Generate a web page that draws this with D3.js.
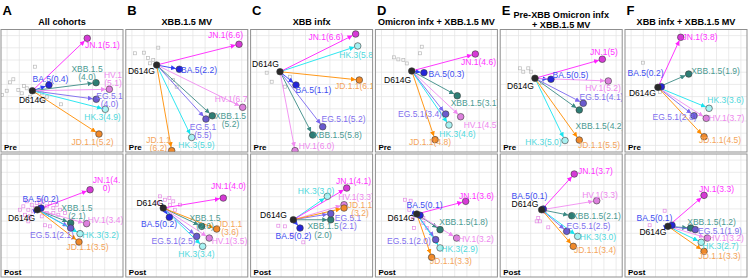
<!DOCTYPE html>
<html><head><meta charset="utf-8">
<script src="https://cdn.jsdelivr.net/npm/d3@7"></script>
<style>body{margin:0;background:#fff} text{font-family:"Liberation Sans",Arial,sans-serif}</style>
</head><body><svg id="c" width="748" height="278"></svg>
<script>
// ---------- data ----------
const letters = ["A","B","C","D","E","F"];
const cohorts = [["All cohorts"],["XBB.1.5 MV"],["XBB infx"],["Omicron infx + XBB.1.5 MV"],["Pre-XBB Omicron infx","+ XBB.1.5 MV"],["XBB infx + XBB.1.5 MV"]];
const timepoints = ["Pre","Post"];
const variants = ["D614G","BA.5","XBB.1.5","EG.5.1","HK.3","HV.1","JD.1.1","JN.1"];

// antigenic map coordinates per panel (x, y in map units), variant order as above
const preCoords = [
  [[2.57,5.02],[3.93,4.55],[7.79,4.36],[7.81,5.72],[8.55,6.54],[8.88,4.90],[8.03,8.57],[7.07,0.72]],
  [[2.53,2.91],[4.39,3.26],[7.09,7.07],[6.57,7.34],[5.40,8.85],[9.58,6.38],[3.76,9.93],[9.28,1.21]],
  [[2.41,3.46],[3.72,4.55],[5.09,8.65],[5.91,7.97],[8.78,1.35],[3.64,9.93],[8.91,4.14],[8.61,0.37]],
  [[2.98,3.40],[3.98,3.54],[6.71,5.43],[5.76,6.93],[6.03,7.83],[6.99,7.15],[4.89,9.03],[8.19,2.01]],
  [[2.85,4.00],[4.16,4.08],[6.48,6.60],[6.81,6.05],[5.31,9.10],[8.86,4.22],[6.48,9.06],[8.37,2.44]],
  [[2.70,4.74],[2.98,4.69],[5.22,3.65],[5.66,7.07],[6.89,6.46],[6.66,7.28],[6.48,8.79],[4.57,0.64]]
];
const postCoords = [
  [[2.98,4.57],[3.28,4.43],[5.71,5.66],[5.71,6.07],[6.48,6.53],[7.02,5.71],[6.39,7.21],[7.30,2.93]],
  [[3.07,4.43],[3.57,5.19],[6.22,5.93],[5.81,6.75],[6.30,7.57],[6.84,6.89],[7.45,6.15],[7.99,3.61]],
  [[3.50,5.39],[4.05,6.07],[6.57,5.39],[6.57,4.89],[6.29,3.47],[7.66,4.16],[7.66,4.43],[7.88,2.79]],
  [[3.39,4.92],[3.66,5.02],[5.30,6.20],[4.94,7.02],[5.30,7.70],[6.66,6.89],[4.61,8.47],[7.40,3.88]],
  [[3.40,4.57],[3.53,4.51],[5.86,5.06],[5.45,6.34],[6.35,6.75],[7.91,3.83],[5.99,7.57],[6.07,1.64]],
  [[3.52,5.93],[3.85,5.84],[5.39,6.07],[5.76,6.20],[6.25,7.24],[6.75,6.89],[6.48,7.98],[6.48,3.39]]
];
// antigenic distance from D614G (label values), variant order without D614G
const preDist = [
  ["0.4","4.0","4.0","4.9","5.1","5.2","5.1"],
  ["2.2","5.2","5.5","5.9","6.7","6.2","6.6"],
  ["1.1","5.8","5.2","5.8","6.0","6.1","6.6"],
  ["0.3","3.1","3.4","4.6","4.5","4.8","4.6"],
  ["0.5","4.2","4.1","5.0","5.2","5.5","5"],
  ["0.2","1.9","2.8","3.6","3.7","4.5","3.8"]
];
const postDist = [
  ["0.2","2.1","2.1","3.2","3.4","3.5","4.0"],
  ["0.2","2.6","2.5","3.4","3.5","3.6","4.0"],
  ["0.2","2.0","2.1","3.0","3.3","3.2","4.1"],
  ["0.1","1.8","2.0","2.9","3.2","3.3","3.6"],
  ["0.1","2.1","2.5","3.0","3.3","3.4","3.7"],
  ["0.1","1.2","1.9","2.7","3.2","3.3","3.3"]
];
// serum positions (map units)
const preSera = [
  [[1.01,4.08],[0.74,4.33],[0.47,5.02],[1.42,4.96],[1.70,5.23],[2.11,4.82],[2.38,5.51],[2.93,5.10],[3.34,5.23],[3.75,5.51],[2.79,3.05],[4.92,6.13],[3.25,5.78],[0.08,5.37],[1.89,4.63]],
  [[0.75,1.95],[1.49,1.90],[2.66,1.49],[2.25,2.50],[1.98,2.77],[4.17,4.69],[3.87,4.14],[1.82,2.34]],
  [[1.32,3.54],[1.73,4.28],[3.23,3.87],[2.82,4.69]],
  [[1.52,2.28],[1.88,2.45],[2.29,2.50],[2.57,2.78],[3.80,1.41],[3.66,1.95]],
  [[1.62,3.18],[1.89,3.46],[2.30,3.18],[2.52,3.46],[3.43,4.39]],
  [[1.48,2.72],[2.87,5.12]]
];
const postSera = [
  [[1.83,4.29],[2.24,4.57],[2.52,4.16],[2.65,4.70],[2.93,4.02],[3.20,4.16],[3.47,3.88],[3.75,4.29],[4.02,4.02],[4.29,4.43],[4.57,4.16],[4.84,4.57],[1.97,4.98],[2.38,5.11],[4.02,4.98],[3.75,4.84],[4.29,4.84],[3.61,5.84],[4.02,5.93],[2.24,5.52],[3.20,3.75],[2.79,4.43],[4.70,4.98],[1.56,4.57],[3.34,5.11],[5.25,4.84],[2.11,3.88]],
  [[2.80,3.47],[3.21,3.75],[3.57,3.61],[3.89,3.88],[3.62,4.16],[3.35,4.57],[2.66,4.02],[4.44,4.16],[4.03,4.57]],
  [[2.27,5.88],[2.82,5.93],[4.32,7.24],[3.37,6.61]],
  [[2.43,3.75],[2.89,3.83],[2.78,4.57],[3.06,5.33],[3.16,6.07],[3.93,5.25],[3.93,5.66],[4.21,6.07]],
  [[3.12,5.25],[2.99,5.52],[3.26,5.52],[3.94,6.01],[3.67,4.75]],
  [[3.25,4.65],[2.02,5.84]]
];

// ---------- styles / layout ----------
const arrowColors = ["#222222","#2f3cf5","#3b8a84","#7b68ee","#19e3ee","#f08cf0","#ff8c00","#ff22ff"];
const dotColors   = ["#2a2a2a","#2424d8","#2e7d74","#6a5acd","#a8f2f2","#dd80dd","#f0892a","#d63ad6"];
const textColors  = ["#000000","#3c4cf0","#4b9a92","#7f6fee","#4fd8dc","#ee88ee","#f4a45a","#ff33ff"];
// label placement [dx, dy, wrapIndex] relative to point (px)
const labPre = [
  [[0,9.3,0],[1.5,-6,0],[-9,-13.7,7],[13.2,-3.3,6],[-2.8,7.7,0],[3.7,-14.3,4],[-6.5,8,0],[15.2,6.7,0]],
  [[-15.2,6,0],[19.7,0.7,0],[18.2,0.3,7],[-3,7.7,6],[4.8,7.5,0],[-10.2,-8.3,0],[-13.2,-11,6],[-13.5,-9.3,0]],
  [[-14.5,-7.7,0],[17.5,5,0],[24.8,0,0],[20.8,-7.7,0],[-0.2,9,0],[21.5,-4.7,0],[-3.3,5.7,0],[-29.7,2.7,0]],
  [[-14.2,9,0],[22.5,1.3,0],[17.7,7.6,0],[-25.7,0,0],[8.5,9,0],[20.8,8.3,0],[-5,2.3,0],[3.2,7.7,0]],
  [[-14.5,7.7,0],[19.5,-4.3,0],[20.7,16,0],[18.2,-6.6,0],[-21.5,1.5,0],[-5.3,7.3,0],[19.7,5.3,0],[1.7,-7.6,0]],
  [[-15.5,5.4,0],[-15.8,-14,0],[26.8,-3.3,0],[-19.5,1.6,0],[16.5,-8.3,0],[20.2,0,0],[16,3.3,0],[19.3,0,0]]
];
const labPost = [
  [[-15.8,8.3,0],[-0.5,-9.3,0],[6.3,-15,7],[-18.7,6.7,0],[20.5,1,0],[18.8,-4,0],[8.5,5,0],[16.5,-10,7]],
  [[-13.3,-5,0],[-10.3,6.7,0],[3.3,-8.3,7],[-23.2,4.7,0],[-6.2,7.7,0],[20.2,3,0],[13.3,-5,6],[5.2,-12,0]],
  [[-19.8,-4.7,0],[-6.5,7.7,0],[-7.7,6.6,7],[17.3,4.3,6],[-11.3,-5,0],[12,-7.4,0],[16,-3.3,6],[6.8,-7.3,0]],
  [[-15.7,4,0],[4.5,-10.6,0],[23.5,-7.7,0],[-26.7,1.3,0],[19.5,0.7,0],[19.3,0.7,0],[19.3,4,0],[10.8,-5.6,0]],
  [[-16.7,-5.7,0],[-13.8,-12.7,0],[24.8,0,0],[21.8,-5,0],[20.3,0.4,0],[3.3,-6,0],[21.7,3.4,0],[21.2,-2.7,0]],
  [[-15,6,0],[-17.5,-7.3,0],[20.8,-6,0],[24.7,1.6,0],[19.2,4,0],[18.7,0,0],[15.5,5,0],[12.5,-6.6,0]]
];

const svg = d3.select("#c");
const defs = svg.append("defs");
arrowColors.forEach((c,i)=>{
  defs.append("marker").attr("id","ah"+i).attr("viewBox","0 0 10 10")
    .attr("refX",10).attr("refY",5).attr("markerWidth",5).attr("markerHeight",5)
    .attr("markerUnits","userSpaceOnUse").attr("orient","auto")
    .append("path").attr("d","M0,0 L10,5 L0,10 z").attr("fill",c);
});

const pitch = 124.8, pw = 122;
const rows = [{top:29.5,h:122.5},{top:154,h:123}];

letters.forEach((L,p)=>{
  const left = 1 + p*pitch;
  svg.append("text").attr("x",left+1.5).attr("y",15).attr("font-size",13).attr("font-weight","bold").text(L);
  const tl = cohorts[p];
  tl.forEach((s,k)=>{
    svg.append("text").attr("x",left+pw/2).attr("y", tl.length===1 ? 25 : 18 + k*10)
      .attr("text-anchor","middle").attr("font-size",9.1).attr("font-weight","bold").text(s);
  });
  rows.forEach((r,t)=>{
    const x = d3.scaleLinear().domain([0,10]).range([left,left+pw]);
    const y = d3.scaleLinear().domain([0,10]).range([r.top,r.top+122]);
    const cid = "clip"+p+"_"+t;
    defs.append("clipPath").attr("id",cid).append("rect").attr("x",left).attr("y",r.top).attr("width",pw).attr("height",r.h);
    const g = svg.append("g").attr("clip-path","url(#"+cid+")");
    g.append("rect").attr("x",left).attr("y",r.top).attr("width",pw).attr("height",r.h).attr("fill","#fff");
    const gx = d3.range(0.5,10.5,1), gy = d3.range(0.5,10.6,1);
    g.selectAll(".vx").data(gx).enter().append("line").attr("x1",d=>x(d)).attr("x2",d=>x(d))
      .attr("y1",r.top).attr("y2",r.top+r.h).attr("stroke","#e2e2e2").attr("stroke-width",0.7);
    g.selectAll(".hy").data(gy).enter().append("line").attr("y1",d=>y(d)).attr("y2",d=>y(d))
      .attr("x1",left).attr("x2",left+pw).attr("stroke","#e2e2e2").attr("stroke-width",0.7);
    const coords = t===0 ? preCoords[p] : postCoords[p];
    const dist = t===0 ? preDist[p] : postDist[p];
    const sera = t===0 ? preSera[p] : postSera[p];
    const lab = t===0 ? labPre[p] : labPost[p];
    g.selectAll(".sr").data(sera).enter().append("rect")
      .attr("x",d=>x(d[0])-1.5).attr("y",d=>y(d[1])-1.5).attr("width",3).attr("height",3)
      .attr("fill","none").attr("stroke", t===0 ? "#b9b9b9" : "#e48ae4").attr("stroke-width",0.7);
    const o = coords[0];
    const ox = x(o[0]), oy = y(o[1]);
    const segs = coords.map((c,i)=>({c,i})).filter(d=>d.i>0);
    g.selectAll(".sg").data(segs).enter().append("line")
      .attr("x1",ox).attr("y1",oy)
      .attr("x2",d=>{const dx=x(d.c[0])-ox, dy=y(d.c[1])-oy, L=Math.hypot(dx,dy); return ox+dx*(L-3.5)/L;})
      .attr("y2",d=>{const dx=x(d.c[0])-ox, dy=y(d.c[1])-oy, L=Math.hypot(dx,dy); return oy+dy*(L-3.5)/L;})
      .attr("stroke",d=>arrowColors[d.i]).attr("stroke-width",0.9)
      .attr("marker-end",d=>"url(#ah"+d.i+")");
    const pts = coords.map((c,i)=>({c,i}));
    const order = [1,2,3,4,5,6,7,0];
    g.selectAll(".pt").data(order.map(i=>pts[i])).enter().append("circle")
      .attr("cx",d=>x(d.c[0])).attr("cy",d=>y(d.c[1])).attr("r",3.3)
      .attr("fill",d=>dotColors[d.i]).attr("stroke","#3a3a3a").attr("stroke-width",0.6);
    pts.forEach(d=>{
      const txt = d.i===0 ? variants[0] : variants[d.i]+"("+dist[d.i-1]+")";
      const l = lab[d.i];
      const cx = x(d.c[0])+l[0], cy = y(d.c[1])+l[1];
      const lines = l[2] ? [txt.slice(0,l[2]), txt.slice(l[2])] : [txt];
      lines.forEach((s,k)=>{
        g.append("text").attr("x",cx).attr("y",cy+3+k*8.3).attr("text-anchor","middle")
          .attr("font-size",8.5).attr("fill",textColors[d.i]).text(s);
      });
    });
    svg.append("text").attr("x",left+3).attr("y",r.top+r.h-2.5).attr("font-size",8).attr("font-weight","bold").text(timepoints[t]);
    svg.append("rect").attr("x",left).attr("y",r.top).attr("width",pw).attr("height",r.h)
      .attr("fill","none").attr("stroke","#8f8f8f").attr("stroke-width",1);
  });
});
</script></body></html>
